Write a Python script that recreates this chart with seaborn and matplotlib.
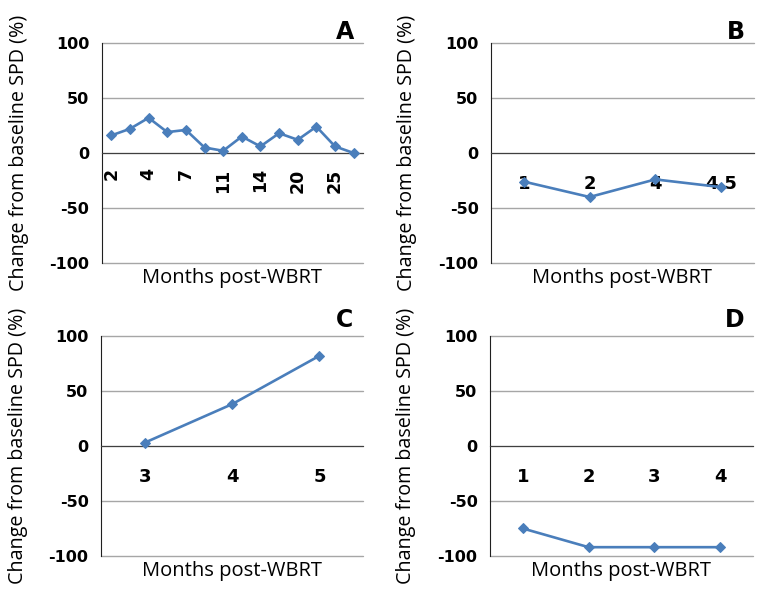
import matplotlib
matplotlib.use("Agg")
import matplotlib.pyplot as plt
import numpy as np
import seaborn as sns

# months post-WBRT (tick labels) and change from baseline SPD (%) per panel
a_months = ["2", "", "4", "", "7", "", "11", "", "14", "", "20", "", "25", ""]
a_change = [16, 22, 32, 19, 21, 5, 2, 15, 6, 18, 12, 24, 6, 0]

b_months = ["1", "2", "4", "4.5"]
b_change = [-26, -40, -24, -31]

c_months = ["3", "4", "5"]
c_change = [3, 38, 82]

d_months = ["1", "2", "3", "4"]
d_change = [-75, -92, -92, -92]

y_ticks = [-100, -50, 0, 50, 100]

LINE = "#4a7ebb"
GRID = "#a6a6a6"

sns.set_style("white")
plt.rcParams['font.family'] = ['DejaVu Sans']
plt.rcParams['text.color'] = 'black'
plt.rcParams['xtick.color'] = 'black'
plt.rcParams['ytick.color'] = 'black'
plt.rcParams['axes.labelcolor'] = 'black'


def draw_panel(ax, months, change, letter, rotate=False, letter_y=1.05):
    n = len(months)
    pos = np.arange(n)
    sns.lineplot(x=pos, y=change, marker="D", color=LINE, linewidth=1.9,
                 markersize=5.5, markeredgecolor=LINE, ax=ax, zorder=4)
    ax.set_xlim(-0.5, n - 0.5)
    ax.set_ylim(-100, 100)

    ax.spines["top"].set_visible(False)
    ax.spines["right"].set_visible(False)
    ax.spines["bottom"].set_position(("data", 0))
    ax.spines["bottom"].set_color("#404040")
    ax.spines["left"].set_color("#202020")
    ax.spines["bottom"].set_zorder(3)

    ax.set_yticks(y_ticks)
    ax.set_yticklabels([str(t) for t in y_ticks], fontweight="bold", fontsize=11.5)
    ax.tick_params(axis="y", direction="out", length=5, width=1, color="#404040", pad=4)
    ax.yaxis.grid(True, color=GRID, linewidth=1)
    for gl in ax.get_ygridlines():
        gl.set_clip_on(False)
    ax.set_axisbelow(True)

    # boundary ticks (Excel style) and labels at category centres
    ax.set_xticks(np.arange(n + 1) - 0.5)
    ax.set_xticklabels([])
    ax.tick_params(axis="x", which="major", direction="out", length=5, width=1,
                   color="#808080")
    ax.set_xticks(pos, minor=True)
    if rotate:
        ax.set_xticklabels(months, minor=True, rotation=90, fontweight="bold",
                           fontsize=12.5)
        ax.tick_params(axis="x", which="minor", length=0, pad=11)
    else:
        ax.set_xticklabels(months, minor=True, fontweight="bold", fontsize=13)
        ax.tick_params(axis="x", which="minor", length=0, pad=16)

    ax.set_ylabel("Change from baseline SPD (%)", family="Open Sans", fontsize=14.2)
    ax.yaxis.set_label_coords(-0.28, 0.5)
    ax.set_xlabel("")
    ax.text(0.5, -0.025, "Months post-WBRT", transform=ax.transAxes, ha="center",
            va="top", family="Open Sans", fontsize=14.5)
    ax.text(0.93, letter_y, letter, transform=ax.transAxes, ha="center",
            va="center", fontweight="bold", fontsize=17)


fig = plt.figure(figsize=(7.64, 6.01), dpi=100)
ax_a = fig.add_axes([0.1335, 0.5624, 0.3416, 0.366])
ax_b = fig.add_axes([0.6427, 0.5624, 0.344, 0.366])
ax_c = fig.add_axes([0.1322, 0.0749, 0.343, 0.366])
ax_d = fig.add_axes([0.6414, 0.0749, 0.344, 0.366])

draw_panel(ax_a, a_months, a_change, "A", rotate=True)
draw_panel(ax_b, b_months, b_change, "B")
draw_panel(ax_c, c_months, c_change, "C", letter_y=1.073)
draw_panel(ax_d, d_months, d_change, "D", letter_y=1.073)

fig.savefig("out.png", dpi=100)
